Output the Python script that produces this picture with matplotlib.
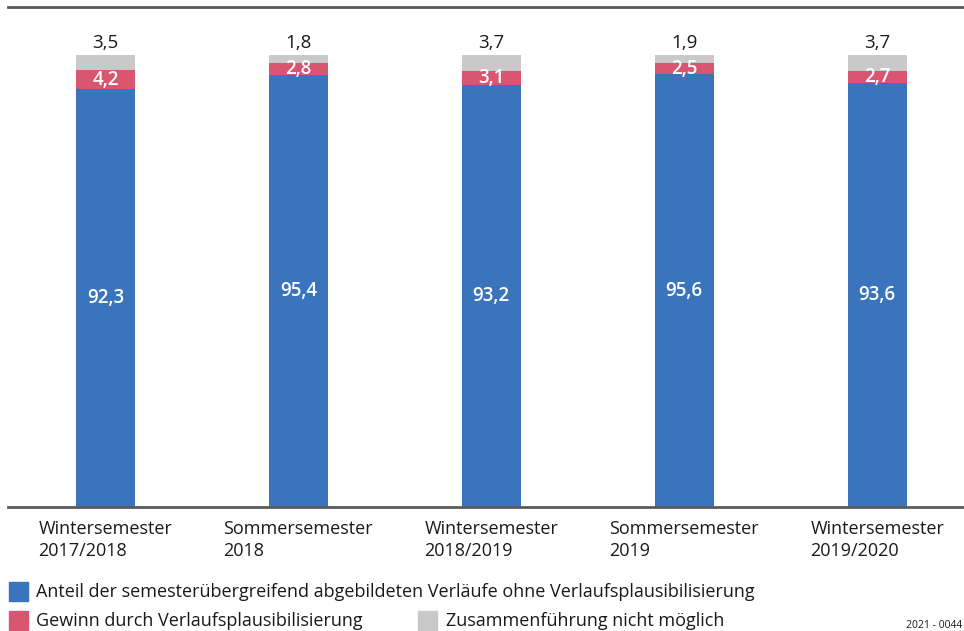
import matplotlib
matplotlib.use("Agg")
import matplotlib.pyplot as plt

# data (percent)
semesters = ["Wintersemester\n2017/2018", "Sommersemester\n2018",
             "Wintersemester\n2018/2019", "Sommersemester\n2019",
             "Wintersemester\n2019/2020"]
anteil = [92.3, 95.4, 93.2, 95.6, 93.6]
gewinn = [4.2, 2.8, 3.1, 2.5, 2.7]
nicht_moeglich = [3.5, 1.8, 3.7, 1.9, 3.7]

legend_labels = ["Anteil der semesterübergreifend abgebildeten Verläufe ohne Verlaufsplausibilisierung",
                 "Gewinn durch Verlaufsplausibilisierung",
                 "Zusammenführung nicht möglich"]

c_blue = "#3a74bc"
c_pink = "#d95671"
c_grey = "#c9c9c9"
c_axis = "#5a5a5a"

plt.rcParams['font.family'] = ['Open Sans', 'DejaVu Sans']

fig = plt.figure(figsize=(9.64, 6.31), dpi=100)
ax = fig.add_axes([8/964, 124/631, 1 - 8/964, 500/631])

x = list(range(len(semesters)))
w = 0.305
bottom2 = [a for a in anteil]
bottom3 = [a + g for a, g in zip(anteil, gewinn)]
ax.bar(x, anteil, w, color=c_blue)
ax.bar(x, gewinn, w, bottom=bottom2, color=c_pink)
ax.bar(x, nicht_moeglich, w, bottom=bottom3, color=c_grey)

def fmt(v):
    return ("%.1f" % v).replace(".", ",")

for i in x:
    ax.text(i, anteil[i] / 2, fmt(anteil[i]), ha="center", va="center",
            color="white", fontsize=13.5, fontweight="semibold")
    ax.text(i, anteil[i] + gewinn[i] / 2, fmt(gewinn[i]), ha="center", va="center",
            color="white", fontsize=13.5, fontweight="semibold")
    ax.text(i, bottom3[i] + nicht_moeglich[i] + 0.6, fmt(nicht_moeglich[i]),
            ha="center", va="bottom", color="#1a1a1a", fontsize=13.5)

ax.set_xlim(-0.505, 4.45)
ax.set_ylim(0, 110.5)
ax.set_yticks([])
ax.set_xticks(x)
ax.set_xticklabels(semesters, fontsize=13, color="#1a1a1a",
                   multialignment="left", linespacing=1.35)
ax.tick_params(axis="x", length=0, pad=9)
for s in ["left", "right"]:
    ax.spines[s].set_visible(False)
for s in ["top", "bottom"]:
    ax.spines[s].set_color(c_axis)
    ax.spines[s].set_linewidth(2)

# legend
def square(px, py, color):
    fig.add_artist(plt.Rectangle((px / 964, 1 - (py + 19) / 631), 19 / 964, 19 / 631,
                                 color=color, transform=fig.transFigure))
square(9, 582, c_blue)
square(9, 611, c_pink)
square(418, 611, c_grey)
fig.text(36 / 964, 1 - 592 / 631, legend_labels[0], fontsize=13, va="center", color="#1a1a1a")
fig.text(36 / 964, 1 - 621 / 631, legend_labels[1], fontsize=13, va="center", color="#1a1a1a")
fig.text(446 / 964, 1 - 621 / 631, legend_labels[2], fontsize=13, va="center", color="#1a1a1a")
fig.text(962 / 964, 1 - 625 / 631, "2021 - 0044", fontsize=7.5, ha="right", va="center", color="#1a1a1a")

fig.savefig("out.png", dpi=100)
